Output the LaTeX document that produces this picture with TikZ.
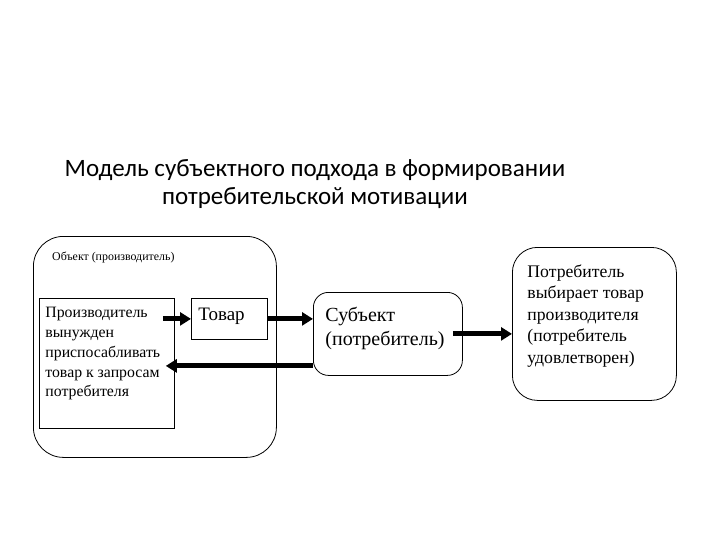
\documentclass[tikz,border=0pt]{standalone}
\usepackage{fontspec}
\setmainfont{Liberation Serif}
\newfontfamily\titlefont{Carlito}
\usetikzlibrary{arrows.meta}
\def\framelw{0.8pt}

\begin{document}
\begin{tikzpicture}[x=1pt, y=-1pt,
  frame/.style={draw, line width=\framelw, anchor=north west},
  thickarrow/.style={line width=5pt, -{Triangle[length=11pt, width=13pt]}}]
  \useasboundingbox (0,0) rectangle (720,540);

  \node[align=center, font=\titlefont\fontsize{25}{28}\selectfont] (title) at (315,184)
    {Модель субъектного подхода в формировании\\потребительской мотивации};

  \node[frame, rounded corners=30pt, inner sep=0pt, minimum width=243pt, minimum height=221pt] (obj) at (33,236) {};
  \node[anchor=west, inner sep=0pt, font=\fontsize{11.9}{13}\selectfont] (objlabel) at (52,258) {Объект (производитель)};

  \node[frame, inner xsep=6pt, inner ysep=5.4pt, font=\fontsize{15.8}{19.8}\selectfont] (prod) at (39,298)
    {\parbox[t][119.2pt][t]{123pt}{\raggedright\strut Производитель\\вынужден\\приспосабливать\\товар к запросам\\потребителя}};
  \node[frame, inner xsep=7pt, inner ysep=6.6pt, font=\fontsize{19}{22}\selectfont] (tovar) at (191,298)
    {\parbox[t][27.8pt][t]{62pt}{\strut Товар}};
  \node[frame, rounded corners=15pt, inner xsep=12pt, inner ysep=12.5pt, font=\fontsize{20}{24}\selectfont] (subj) at (313,292)
    {\parbox[t][58pt][t]{125pt}{\raggedright\strut Субъект\\(потребитель)}};
  \node[frame, rounded corners=25pt, inner xsep=15pt, inner ysep=15pt, font=\fontsize{17.7}{21.5}\selectfont] (cons) at (512,247)
    {\parbox[t][123pt][t]{134pt}{\raggedright\strut Потребитель\\выбирает товар\\производителя\\(потребитель\\удовлетворен)}};

  \coordinate (back) at ([yshift=-32pt]subj.west);
  \draw[thickarrow] ([xshift=-12pt]prod.east |- tovar.west) -- (tovar.west);
  \draw[thickarrow] (tovar.east) -- (tovar.east -| subj.west);
  \draw[thickarrow] ([xshift=-10pt]subj.east) -- (subj.east -| cons.west);
  \draw[thickarrow] (back) -- ([xshift=-9pt]prod.east |- back);
\end{tikzpicture}
\end{document}
